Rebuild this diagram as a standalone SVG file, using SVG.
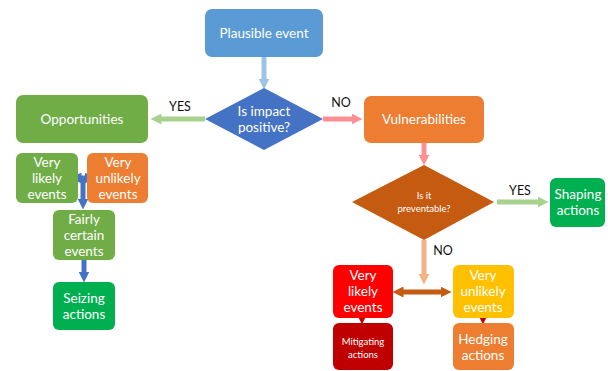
<svg xmlns="http://www.w3.org/2000/svg" width="608" height="371" viewBox="0 0 608 371">
<style>
text{font-family:Lato,"Liberation Sans",sans-serif;fill:#fff;text-anchor:middle}
.lbl{fill:#111;font-size:12.5px}
.t{font-size:13.5px}
.s{font-size:9.5px}
</style>
<defs>
<marker id="aLB" viewBox="0 0 10 10" refX="5" refY="5" markerWidth="2.2" markerHeight="2.2" orient="auto"><path d="M0,0 L10,5 L0,10 z" fill="#9DC3E6"/></marker>
<marker id="aLG" viewBox="0 0 10 10" refX="5" refY="5" markerWidth="2.2" markerHeight="2.2" orient="auto"><path d="M0,0 L10,5 L0,10 z" fill="#A9D18E"/></marker>
<marker id="aPK" viewBox="0 0 10 10" refX="5" refY="5" markerWidth="2.2" markerHeight="2.2" orient="auto"><path d="M0,0 L10,5 L0,10 z" fill="#FF8F94"/></marker>
<marker id="aPE" viewBox="0 0 10 10" refX="5" refY="5" markerWidth="2.2" markerHeight="2.2" orient="auto"><path d="M0,0 L10,5 L0,10 z" fill="#F4B183"/></marker>
<marker id="aBL" viewBox="0 0 10 10" refX="5" refY="5" markerWidth="2.2" markerHeight="2.2" orient="auto"><path d="M0,0 L10,5 L0,10 z" fill="#4472C4"/></marker>
<marker id="aBLs" viewBox="0 0 10 10" refX="5" refY="5" markerWidth="2.2" markerHeight="2.2" orient="auto-start-reverse"><path d="M0,0 L10,5 L0,10 z" fill="#4472C4"/></marker>
<marker id="aBR" viewBox="0 0 10 10" refX="5" refY="5" markerWidth="2.2" markerHeight="2.2" orient="auto-start-reverse"><path d="M0,0 L10,5 L0,10 z" fill="#C55A11"/></marker>
<marker id="aDR" viewBox="0 0 10 10" refX="5" refY="5" markerWidth="2.2" markerHeight="2.2" orient="auto"><path d="M0,0 L10,5 L0,10 z" fill="#C00000"/></marker>
</defs>
<rect width="608" height="371" fill="#fff"/>
<g id="connectors" fill="none" stroke-width="5">
<line x1="264" y1="57" x2="264" y2="84" stroke="#9DC3E6" marker-end="url(#aLB)"/>
<line x1="205" y1="119" x2="156" y2="119" stroke="#A9D18E" marker-end="url(#aLG)"/>
<line x1="323" y1="119" x2="357" y2="119" stroke="#FF8F94" marker-end="url(#aPK)"/>
<line x1="424" y1="143" x2="424" y2="160" stroke="#FF8F94" marker-end="url(#aPK)"/>
<line x1="497" y1="202" x2="543" y2="202" stroke="#A9D18E" marker-end="url(#aLG)"/>
<line x1="424" y1="240" x2="424" y2="279" stroke="#F4B183" marker-end="url(#aPE)"/>
<line x1="398" y1="292" x2="446" y2="292" stroke="#C55A11" marker-start="url(#aBR)" marker-end="url(#aBR)"/>
<line x1="362" y1="318" x2="362" y2="320" stroke="#C00000" stroke-width="4" marker-end="url(#aDR)"/>
<line x1="483" y1="318" x2="483" y2="320" stroke="#C00000" stroke-width="4" marker-end="url(#aDR)"/>
<line x1="76" y1="178" x2="90" y2="178" stroke="#4472C4" marker-start="url(#aBLs)" marker-end="url(#aBL)"/>
<line x1="83" y1="178" x2="83" y2="204" stroke="#4472C4" marker-end="url(#aBL)"/>
<line x1="84" y1="260" x2="84" y2="277" stroke="#4472C4" marker-end="url(#aBL)"/>
<text class="lbl" x="180" y="111">YES</text>
<text class="lbl" x="341" y="107">NO</text>
<text class="lbl" x="520" y="195">YES</text>
<text class="lbl" x="443" y="255">NO</text>
</g>
<g id="plausible"><rect x="205" y="9" width="118" height="48" rx="7" fill="#5B9BD5"/><text class="t" x="264" y="38">Plausible event</text></g>
<g id="impact"><polygon points="264,88 323,119 264,150 205,119" fill="#4472C4"/><text class="t" x="264" y="116">Is impact</text><text class="t" x="264" y="132">positive?</text></g>
<g id="opportunities"><rect x="16" y="95" width="132" height="48" rx="7" fill="#70AD47"/><text class="t" x="82" y="124">Opportunities</text></g>
<g id="vulnerabilities"><rect x="364" y="96" width="120" height="47" rx="7" fill="#ED7D31"/><text class="t" x="424" y="124">Vulnerabilities</text></g>
<g id="preventable"><polygon points="424,165 494,202 424,240 352,202" fill="#C55A11"/><text class="s" x="424" y="199">Is it</text><text class="s" x="424" y="212">preventable?</text></g>
<g id="shaping"><rect x="550" y="178" width="55" height="49" rx="6" fill="#00B050"/><text class="t" x="578" y="199">Shaping</text><text class="t" x="578" y="215">actions</text></g>
<g id="vl-left"><rect x="16" y="153" width="62" height="50" rx="6" fill="#70AD47"/><text class="t" x="47" y="167">Very</text><text class="t" x="47" y="183">likely</text><text class="t" x="47" y="199">events</text></g>
<g id="vu-left"><rect x="87" y="153" width="61" height="50" rx="6" fill="#ED7D31"/><text class="t" x="118" y="167">Very</text><text class="t" x="118" y="183">unlikely</text><text class="t" x="118" y="199">events</text></g>
<g id="fairly"><rect x="53" y="210" width="62" height="50" rx="6" fill="#70AD47"/><text class="t" x="84" y="224">Fairly</text><text class="t" x="84" y="240">certain</text><text class="t" x="84" y="256">events</text></g>
<g id="seizing"><rect x="53" y="282" width="62" height="48" rx="6" fill="#00B050"/><text class="t" x="84" y="303">Seizing</text><text class="t" x="84" y="319">actions</text></g>
<g id="vl-right"><rect x="333" y="265" width="60" height="53" rx="6" fill="#FF0000"/><text class="t" x="363" y="280">Very</text><text class="t" x="363" y="296">likely</text><text class="t" x="363" y="312">events</text></g>
<g id="vu-right"><rect x="453" y="265" width="61" height="53" rx="6" fill="#FFC000"/><text class="t" x="483" y="280">Very</text><text class="t" x="483" y="296">unlikely</text><text class="t" x="483" y="312">events</text></g>
<g id="mitigating"><rect x="333" y="323" width="60" height="47" rx="6" fill="#C00000"/><text class="s" x="363" y="345">Mitigating</text><text class="s" x="363" y="358">actions</text></g>
<g id="hedging"><rect x="453" y="323" width="61" height="47" rx="6" fill="#ED7D31"/><text class="t" x="483" y="344">Hedging</text><text class="t" x="483" y="360">actions</text></g>
</svg>
